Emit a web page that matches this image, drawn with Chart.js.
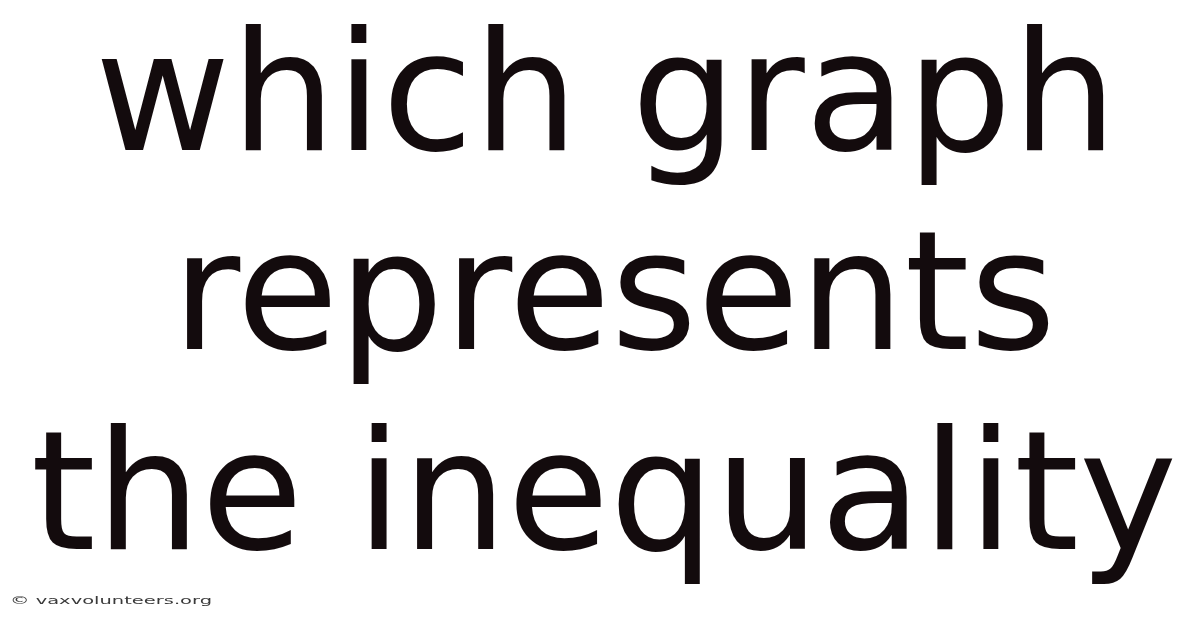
<!DOCTYPE html>
<html>
<head>
<meta charset="utf-8">
<script src="https://cdn.jsdelivr.net/npm/chart.js@4/dist/chart.umd.min.js"></script>
<style>
html,body{margin:0;padding:0;background:#ffffff;}
#wrap{width:1200px;height:628px;}
</style>
</head>
<body>
<div id="wrap"><canvas id="c" width="1200" height="628"></canvas></div>
<script>
const categories = [];
const seriesValues = [];
const titleLines = ["which graph", "represents", "the inequality"];
const creditText = "\u00A9 vaxvolunteers.org";

// layout of the headline text (positions only)
const lineCenters = [606, 614, 604];
const lineBaselines = [150, 349, 549];

const headlinePlugin = {
  id: 'headline',
  afterDraw(chart) {
    const ctx = chart.ctx;
    ctx.save();
    ctx.font = '166px "DejaVu Sans"';
    ctx.fillStyle = '#130b0d';
    ctx.textBaseline = 'alphabetic';
    ctx.textAlign = 'center';
    titleLines.forEach((t, i) => ctx.fillText(t, lineCenters[i], lineBaselines[i]));
    ctx.restore();
  }
};

const creditPlugin = {
  id: 'credit',
  afterDraw(chart) {
    const ctx = chart.ctx;
    ctx.save();
    ctx.font = '11px "DejaVu Sans"';
    ctx.fillStyle = '#3a3a3a';
    ctx.textBaseline = 'alphabetic';
    ctx.textAlign = 'left';
    const w = ctx.measureText(creditText).width;
    const sx = 202 / w;
    ctx.translate(10, 604);
    ctx.scale(sx, 1);
    ctx.fillText(creditText, 0, 0);
    ctx.restore();
  }
};

new Chart(document.getElementById('c'), {
  type: 'bar',
  data: { labels: categories, datasets: [{ data: seriesValues }] },
  options: {
    responsive: false,
    animation: false,
    devicePixelRatio: 1,
    layout: { padding: 0 },
    scales: { x: { display: false }, y: { display: false } },
    plugins: {
      legend: { display: false },
      tooltip: { enabled: false },
      title: { display: false }
    }
  },
  plugins: [headlinePlugin, creditPlugin]
});
</script>
</body>
</html>
